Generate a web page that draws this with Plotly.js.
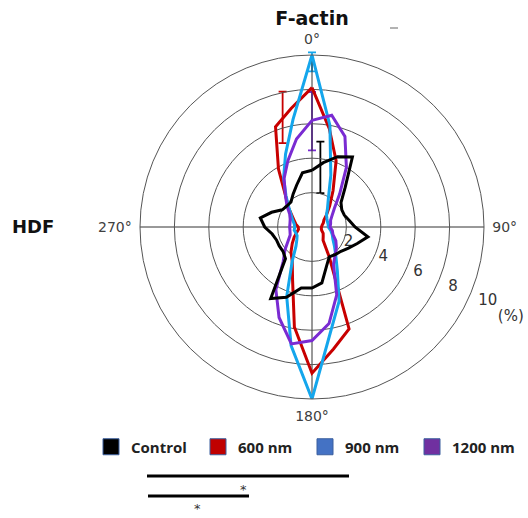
<!DOCTYPE html>
<html><head><meta charset="utf-8">
<script src="https://cdn.plot.ly/plotly-3.0.1.min.js"></script>
<style>html,body{margin:0;padding:0;background:#fff}#chart{width:528px;height:518px}</style>
</head><body><div id="chart"></div>
<script>
// ---- data (percent of fibres per 10° orientation bin) ----
const angles  = [0,10,20,30,40,50,60,70,80,90,100,110,120,130,140,150,160,170,180,190,200,210,220,230,240,250,260,270,280,290,300,310,320,330,340,350];
const control = [3.3,3.8,4.35,4.7,3.0,2.2,2.0,2.0,2.2,2.5,3.3,2.8,2.45,2.2,2.1,2.0,2.45,3.3,3.55,3.6,4.35,4.8,2.4,2.2,2.2,2.2,2.35,2.75,3.05,2.5,2.0,1.9,1.9,2.2,2.6,3.2];
const nm600   = [8.1,5.8,4.1,2.45,1.6,1.1,0.8,0.7,0.6,0.55,0.55,0.6,0.75,0.85,1.0,2.0,6.3,7.2,8.5,5.9,3.3,2.3,1.9,1.5,1.2,0.95,0.8,0.8,0.95,1.1,1.35,1.8,2.4,3.9,6.2,7.0];
const nm900   = [10,6.0,3.2,1.9,1.4,1.1,1.0,0.95,0.95,0.95,1.1,1.25,1.4,1.7,2.15,2.95,4.6,6.2,10,7.0,4.3,2.3,1.45,1.15,1.0,1.0,1.05,1.0,1.05,1.2,1.4,1.75,2.35,3.3,4.5,6.35];
const nm1200  = [6.2,6.6,5.6,4.0,2.5,1.7,1.35,1.15,1.1,1.05,1.2,1.3,1.6,1.85,2.1,2.5,4.2,5.7,6.6,6.9,5.6,4.2,2.6,2.05,1.6,1.35,1.3,1.3,1.3,1.35,1.5,1.9,2.4,3.25,4.1,5.2];
const seriesNames = ['Control','600 nm','900 nm','1200 nm'];
// error bars: one per series
const errTheta = [8,345,0,0];
const errR     = [3.5,6.6,9.6,6.15];
const errSize  = [1.5,1.5,0.55,1.7];
// axes
const radialTicks = [2,4,6,8,10];
const radialUnit = '(%)';
const angularTicks = [0,90,180,270];
const angularLabels = ['0°','90°','180°','270°'];

// ---- styles ----
const seriesData = [control, nm600, nm900, nm1200];
const lineColors = ['#000000','#c80000','#14a6ec','#7a2bd2'];
const legendColors = ['#000000','#c00000','#4472c4','#7030a0'];
const drawOrder = [1,2,3,0];

const W = 528, H = 518, cx = 312, cy = 227, R = 172;
const xdom = [(cx-R)/W, (cx+R)/W];
const ydom = [1-(cy+R)/H, 1-(cy-R)/H];
const unit = R/10; // px per percent
// cartesian overlay covering the whole page with the same scale as the polar radius
const xRange = [(0-cx)/unit, (W-cx)/unit];
const yRange = [(cy-H)/unit, (cy-0)/unit];
const toXY = (r, deg) => [r*Math.sin(deg*Math.PI/180), r*Math.cos(deg*Math.PI/180)];

const traces = [];
drawOrder.forEach(i => {
  traces.push({
    type:'scatterpolar', mode:'lines',
    r: seriesData[i].concat([seriesData[i][0]]),
    theta: angles.concat([angles[0]]),
    line:{color:lineColors[i], width:3},
    showlegend:false, hoverinfo:'skip', name:seriesNames[i]
  });
});
// radial tick labels placed along a ray
const labR = radialTicks.map(v => v*1.1+0.1).concat([12.7]);
const labT = radialTicks.map(() => 113).concat([114.5]);
const labXY = labR.map((r,k) => toXY(r, labT[k]));
traces.push({
  type:'scatter', mode:'text', cliponaxis:false, xaxis:'x', yaxis:'y',
  x: labXY.map(p => p[0]), y: labXY.map(p => p[1]),
  text: radialTicks.map(String).concat([radialUnit]),
  textfont:{family:'DejaVu Sans', size:15, color:'#333'},
  showlegend:false, hoverinfo:'skip'
});
// error bars
seriesNames.forEach((n,i) => {
  const p = toXY(errR[i], errTheta[i]);
  traces.push({
    type:'scatter', mode:'markers', xaxis:'x', yaxis:'y', cliponaxis:false,
    x:[p[0]], y:[p[1]],
    marker:{size:1, color:lineColors[i]},
    error_y:{type:'data', array:[errSize[i]], visible:true, color:lineColors[i], thickness:1.8, width:4},
    showlegend:false, hoverinfo:'skip'
  });
});
// legend entries (square swatches)
seriesNames.forEach((n,i) => {
  traces.push({
    type:'scatter', mode:'markers', x:[null], y:[null], name:n,
    marker:{symbol:'square', size:16, color:legendColors[i], line:{color:'#3b5f9e', width:1}},
    hoverinfo:'skip'
  });
});

const layout = {
  width:W, height:H,
  margin:{l:0,r:0,t:0,b:0},
  paper_bgcolor:'#ffffff', plot_bgcolor:'rgba(0,0,0,0)',
  title:{text:'<b>F-actin</b>', x:cx/W, xanchor:'center', y:1-18/H, yanchor:'middle',
         font:{family:'DejaVu Sans', size:19, color:'#111'}},
  polar:{
    domain:{x:xdom, y:ydom},
    bgcolor:'rgba(0,0,0,0)',
    radialaxis:{range:[0,10], tickmode:'array', tickvals:[2,4,6,8], showticklabels:false, ticks:'',
                showline:false, gridcolor:'#555', gridwidth:1},
    angularaxis:{rotation:90, direction:'clockwise', tickmode:'array', tickvals:angularTicks, ticktext:angularLabels,
                 ticks:'outside', ticklen:5, tickcolor:'rgba(0,0,0,0)',
                 showline:true, linecolor:'#555', linewidth:1, gridcolor:'#333', gridwidth:1,
                 tickfont:{family:'DejaVu Sans', size:14, color:'#404040'}}
  },
  xaxis:{domain:[0,1], range:xRange, visible:false, fixedrange:true},
  yaxis:{domain:[0,1], range:yRange, visible:false, fixedrange:true},
  showlegend:true,
  legend:{orientation:'h', x:91/W, xanchor:'left', y:1-447/H, yanchor:'middle',
          font:{family:'Open Sans', size:15, color:'#222', weight:'bold'},
          entrywidth:62, entrywidthmode:'pixels', bgcolor:'rgba(0,0,0,0)', itemclick:false, itemdoubleclick:false},
  annotations:[
    {text:'<b>HDF</b>', xref:'paper', yref:'paper', x:33/W, y:1-226/H, xanchor:'center', yanchor:'middle', showarrow:false,
     font:{family:'DejaVu Sans', size:18, color:'#111'}},
    {text:'*', xref:'paper', yref:'paper', x:243/W, y:1-489/H, xanchor:'center', yanchor:'middle', showarrow:false,
     font:{family:'DejaVu Sans', size:13, color:'#333'}},
    {text:'*', xref:'paper', yref:'paper', x:197/W, y:1-508/H, xanchor:'center', yanchor:'middle', showarrow:false,
     font:{family:'DejaVu Sans', size:13, color:'#333'}}
  ],
  shapes:[
    {type:'line', xref:'paper', yref:'paper', x0:147/W, x1:349/W, y0:1-476/H, y1:1-476/H, line:{color:'#000', width:3}},
    {type:'line', xref:'paper', yref:'paper', x0:148/W, x1:249/W, y0:1-496/H, y1:1-496/H, line:{color:'#000', width:3}},
    {type:'line', xref:'paper', yref:'paper', x0:390/W, x1:398/W, y0:1-28/H, y1:1-28/H, line:{color:'#666', width:1}}
  ]
};

Plotly.newPlot('chart', traces, layout, {displayModeBar:false, staticPlot:true});
</script>
</body></html>
